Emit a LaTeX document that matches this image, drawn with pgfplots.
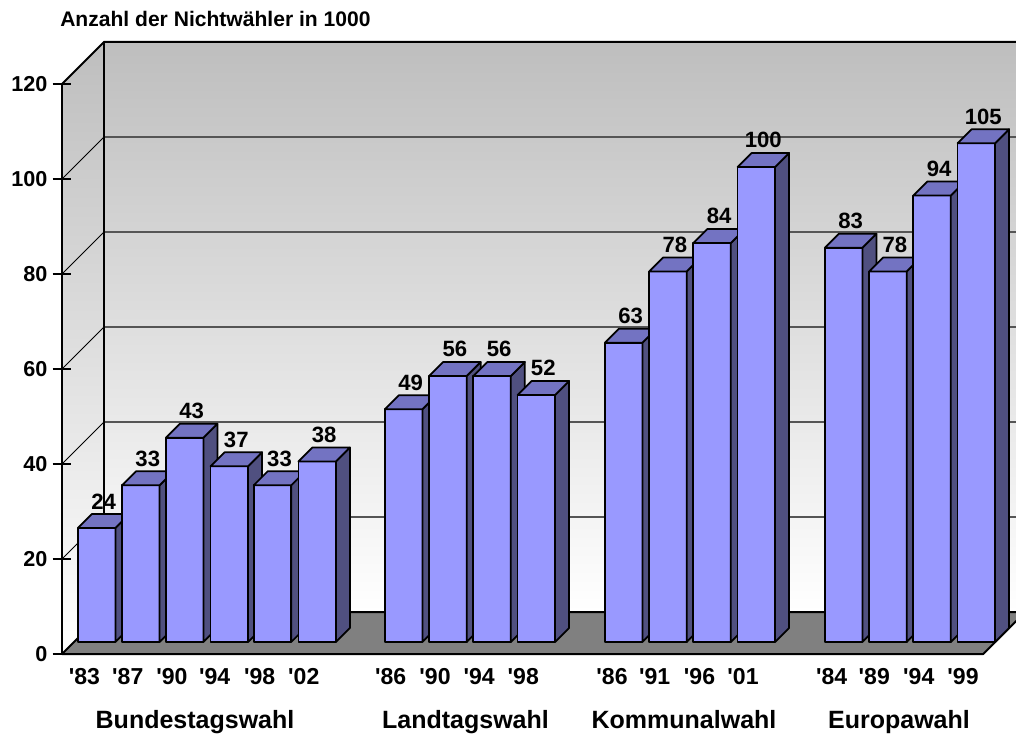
\documentclass[border=0pt]{standalone}
\usepackage{pgfplots}
\pgfplotsset{compat=1.18}
\usepackage{pgfplotstable}
\usepackage{fontspec}
\setmainfont{Liberation Sans}

\definecolor{barfront}{RGB}{153,153,255}
\definecolor{bartop}{RGB}{115,115,194}
\definecolor{barside}{RGB}{80,80,128}
\definecolor{wallgray}{RGB}{190,190,190}
\definecolor{floorgray}{RGB}{128,128,128}
\definecolor{gridgray}{RGB}{85,85,85}

\newdimen\barh
\pgfdeclareplotmark{bar3d}{%
  \pgfmathsetlength\barh{\barv*3.5625pt}%
  \pgfsetlinewidth{1.3pt}%
  \pgfsetroundjoin
  \pgfsetstrokecolor{black}%
  \pgfsetfillcolor{barfront}%
  \pgfpathrectanglecorners{\pgfqpoint{-14.0625pt}{-\barh}}{\pgfqpoint{14.0625pt}{0pt}}%
  \pgfusepath{fill,stroke}%
  \pgfsetfillcolor{barside}%
  \pgfpathmoveto{\pgfqpoint{14.0625pt}{0pt}}%
  \pgfpathlineto{\pgfqpoint{24.5625pt}{10.5pt}}%
  \pgfpathlineto{\pgfpoint{24.5625pt}{10.5pt-\barh}}%
  \pgfpathlineto{\pgfqpoint{14.0625pt}{-\barh}}%
  \pgfpathclose
  \pgfusepath{fill,stroke}%
  \pgfsetfillcolor{bartop}%
  \pgfpathmoveto{\pgfqpoint{-14.0625pt}{0pt}}%
  \pgfpathlineto{\pgfqpoint{14.0625pt}{0pt}}%
  \pgfpathlineto{\pgfqpoint{24.5625pt}{10.5pt}}%
  \pgfpathlineto{\pgfqpoint{-3.5625pt}{10.5pt}}%
  \pgfpathclose
  \pgfusepath{fill,stroke}%
}

\pgfplotstableread{
x v
96.7 24
140.8 33
184.7 43
229.3 37
272.5 33
317.2 38
}\bund
\pgfplotstableread{
x v
403.7 49
447.9 56
492.1 56
536.3 52
}\land
\pgfplotstableread{
x v
623.7 63
667.9 78
712.1 84
756.3 100
}\komm
\pgfplotstableread{
x v
843.7 83
887.9 78
932.1 94
976.3 105
}\euro

\pgfplotsset{
  bar3d plot/.style={
    only marks, scatter, mark=bar3d,
    point meta=explicit,
    visualization depends on={\thisrow{v} \as \barv},
    nodes near coords,
    every node near coord/.append style={anchor=south, xshift=5.25pt, yshift=13.6pt,
      font=\bfseries\fontsize{16.6}{18}\selectfont, inner sep=0pt, text=black},
  },
}

\begin{document}
\begin{tikzpicture}
\begin{axis}[
  x=0.75pt, y=3.5625pt,
  xmin=62, xmax=983.3, ymin=0, ymax=120,
  axis x line*=bottom, axis y line*=left,
  axis line style={line width=1.5pt, -},
  clip=false, axis on top,
  ytick={0,20,...,120},
  ytick style={line width=1.3pt, black},
  major tick length=14pt, tick align=center,
  xtick={84.5,127.8,172,214.7,259.7,303.8,390.7,435,479.1,523.3,612,654.7,699.5,743,831.7,874.3,918.8,963},
  xticklabels={\textquotesingle83,\textquotesingle87,\textquotesingle90,\textquotesingle94,\textquotesingle98,\textquotesingle02,
    \textquotesingle86,\textquotesingle90,\textquotesingle94,\textquotesingle98,
    \textquotesingle86,\textquotesingle91,\textquotesingle96,\textquotesingle01,
    \textquotesingle84,\textquotesingle89,\textquotesingle94,\textquotesingle99},
  xtick style={draw=none},
  yticklabel style={font=\bfseries\fontsize{16.2}{19}\selectfont, anchor=east, inner sep=0pt, xshift=-3.75pt},
  xticklabel style={font=\bfseries\fontsize{17.3}{20}\selectfont, anchor=base, inner sep=0pt, yshift=-15.75pt},
  /pgf/number format/assume math mode=true,
]
% walls
\shade[top color=wallgray, bottom color=white] (axis cs:104,8.842) rectangle (axis cs:1030,128.842);
\shade[top color=wallgray, bottom color=white] (axis cs:62,0) -- (axis cs:104,8.842) -- (axis cs:104,128.842) -- (axis cs:62,120) -- cycle;
% grid on back wall
\draw[gridgray, line width=1pt] (axis cs:104,28.842) -- (axis cs:1030,28.842);
\draw[gridgray, line width=1pt] (axis cs:104,48.842) -- (axis cs:1030,48.842);
\draw[gridgray, line width=1pt] (axis cs:104,68.842) -- (axis cs:1030,68.842);
\draw[gridgray, line width=1pt] (axis cs:104,88.842) -- (axis cs:1030,88.842);
\draw[gridgray, line width=1pt] (axis cs:104,108.842) -- (axis cs:1030,108.842);
\draw[black, line width=0.6pt] (axis cs:62,20) -- (axis cs:104,28.842);
\draw[black, line width=0.6pt] (axis cs:62,40) -- (axis cs:104,48.842);
\draw[black, line width=0.6pt] (axis cs:62,60) -- (axis cs:104,68.842);
\draw[black, line width=0.6pt] (axis cs:62,80) -- (axis cs:104,88.842);
\draw[black, line width=0.6pt] (axis cs:62,100) -- (axis cs:104,108.842);
% wall borders
\draw[black, line width=1.5pt] (axis cs:62,120) -- (axis cs:104,128.842) -- (axis cs:1030,128.842);
\draw[black, line width=1.5pt] (axis cs:104,8.842) -- (axis cs:104,128.842);
% floor
\filldraw[fill=floorgray, draw=black, line width=1.5pt, line join=round] (axis cs:62,0) -- (axis cs:983.3,0) -- (axis cs:1025.3,8.842) -- (axis cs:104,8.842) -- cycle;

\addplot[bar3d plot] table[x=x, y expr=\thisrow{v}+2.5263, meta=v] {\bund};
\addplot[bar3d plot] table[x=x, y expr=\thisrow{v}+2.5263, meta=v] {\land};
\addplot[bar3d plot] table[x=x, y expr=\thisrow{v}+2.5263, meta=v] {\komm};
\addplot[bar3d plot] table[x=x, y expr=\thisrow{v}+2.5263, meta=v] {\euro};

\node[anchor=base west, inner sep=0pt, font=\bfseries\fontsize{15.8}{18}\selectfont] at (axis cs:60,132.06) {Anzahl der Nichtwähler in 1000};
\node[anchor=base, inner sep=0pt, font=\bfseries\fontsize{18.75}{22}\selectfont] at (axis cs:195,-15.58) {Bundestagswahl};
\node[anchor=base, inner sep=0pt, font=\bfseries\fontsize{18.75}{22}\selectfont] at (axis cs:465.5,-15.58) {Landtagswahl};
\node[anchor=base, inner sep=0pt, font=\bfseries\fontsize{18.75}{22}\selectfont] at (axis cs:684,-15.58) {Kommunalwahl};
\node[anchor=base, inner sep=0pt, font=\bfseries\fontsize{18.75}{22}\selectfont] at (axis cs:899,-15.58) {Europawahl};

\coordinate (bl) at (axis cs:0,-17.263);
\coordinate (tr) at (axis cs:1016,137.684);
\end{axis}
\pgfresetboundingbox
\path (bl) rectangle (tr);
\end{tikzpicture}
\end{document}
